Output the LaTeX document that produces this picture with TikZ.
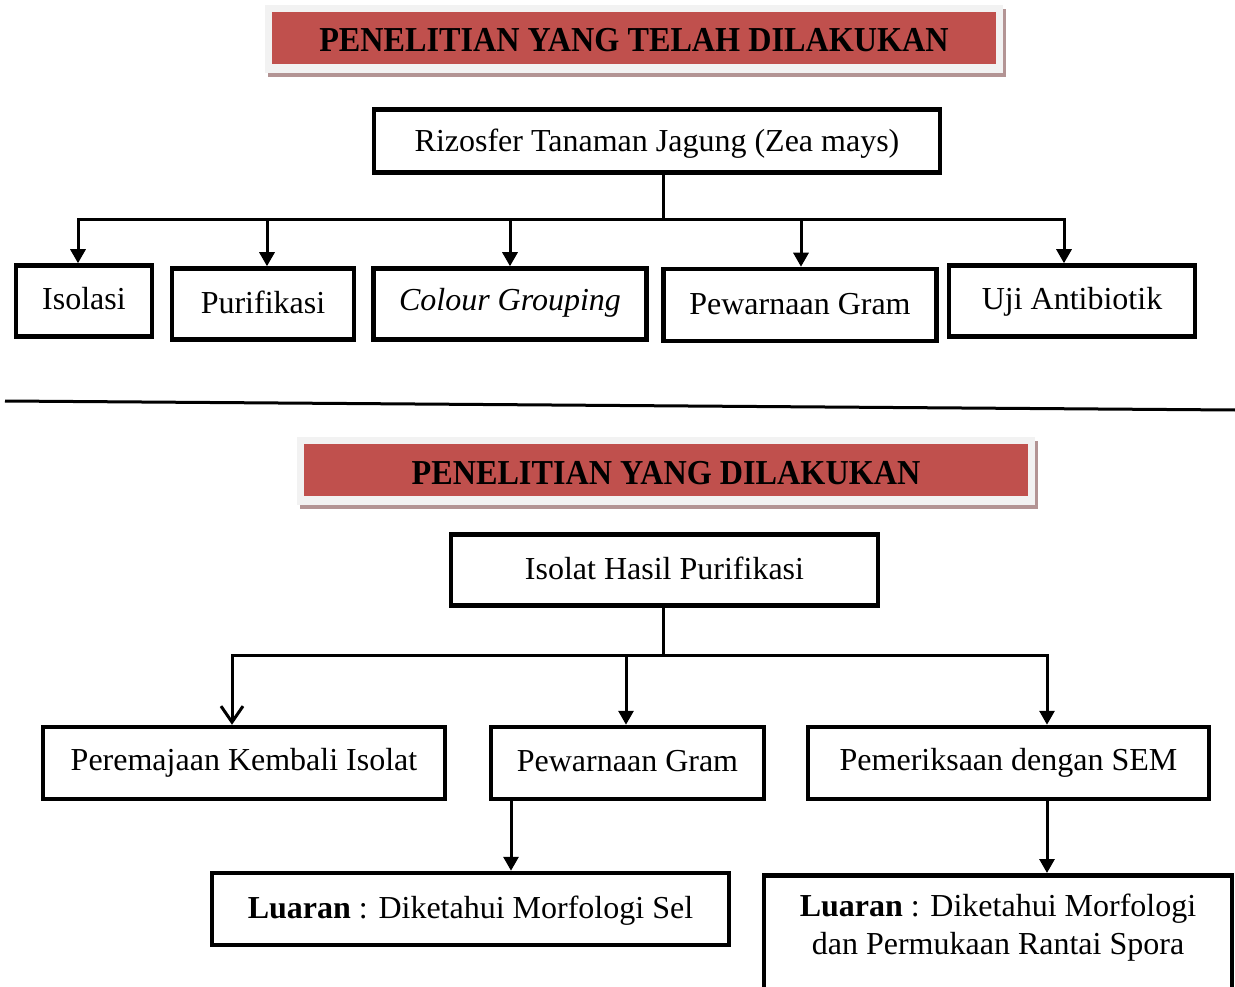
\documentclass[tikz,border=0pt]{standalone}
\usepackage{fontspec}
\setmainfont{Liberation Serif}
\usetikzlibrary{arrows.meta}
\definecolor{hdrred}{HTML}{C0504D}
\definecolor{hdrgray}{HTML}{F2F2F2}
\definecolor{hdrshadow}{HTML}{B39494}
\newcommand\vmove[2]{\raisebox{#1}[\height][\depth]{#2}}
\tikzset{
  box/.style={draw, line width=4.5pt, inner sep=0pt, font=\fontsize{32}{38}\selectfont, align=center},
  hdr/.style={fill=hdrred, inner sep=0pt, font=\fontsize{35}{38}\selectfont\bfseries},
  conn/.style={line width=3pt},
  arr/.style={line width=3pt, -{Triangle[length=14pt,width=15pt]}},
  varr/.style={line width=3pt, -{Straight Barb[length=16pt,width=22pt]}}
}
\begin{document}
\begin{tikzpicture}[x=1pt,y=-1pt]
\useasboundingbox (0,0) rectangle (1235,987);
% header 1
\fill[hdrshadow] (268,9) rectangle (1006,77);
\fill[hdrgray] (265,5) rectangle (1003,73);
\node[hdr, minimum width=724pt, minimum height=52pt] (h1) at (634,38) {\vmove{-2pt}{\scalebox{0.92}[1]{PENELITIAN YANG TELAH DILAKUKAN}}};
% top tree
\node[box, minimum width=566pt, minimum height=63pt] (rz) at (657,141) {\vmove{-3pt}{Rizosfer Tanaman Jagung (Zea mays)}};
\node[box, minimum width=136pt, minimum height=71pt] (iso) at (84,301) {\vmove{2pt}{Isolasi}};
\node[box, minimum width=182pt, minimum height=71pt] (pur) at (263,304) {\vmove{2pt}{Purifikasi}};
\node[box, minimum width=273pt, minimum height=71pt] (cg) at (510,304) {\vmove{1pt}{\itshape Colour Grouping}};
\node[box, minimum width=273pt, minimum height=72pt] (pg) at (800,305) {\vmove{1pt}{Pewarnaan Gram}};
\node[box, minimum width=246pt, minimum height=71pt] (uji) at (1072,301) {\vmove{-1pt}{Uji Antibiotik}};
\coordinate (j1) at (663,220);
\draw[conn] ([xshift=6pt]rz.south) -- (j1);
\draw[arr] (j1) -| ([xshift=-6pt]iso.north);
\draw[arr] (j1) -| ([xshift=4pt]pur.north);
\draw[arr] (j1) -| (cg.north);
\draw[arr] (j1) -| ([xshift=1pt]pg.north);
\draw[arr] (j1) -| ([xshift=-8pt]uji.north);
% separator
\draw[line width=3pt] (5,401) -- (1235,410);
% header 2
\fill[hdrshadow] (300,441) rectangle (1038,509);
\fill[hdrgray] (297,437) rectangle (1035,505);
\node[hdr, minimum width=724pt, minimum height=52pt] (h2) at (666,470) {\vmove{-3pt}{\scalebox{0.92}[1]{PENELITIAN YANG DILAKUKAN}}};
% bottom tree
\node[box, minimum width=427pt, minimum height=71pt] (ihp) at (664.5,570) {\vmove{2pt}{Isolat Hasil Purifikasi}};
\node[box, minimum width=402pt, minimum height=72pt] (per) at (244,763) {Peremajaan Kembali Isolat};
\node[box, minimum width=273pt, minimum height=72pt] (pg2) at (627.5,763) {\vmove{2pt}{Pewarnaan Gram}};
\node[box, minimum width=401pt, minimum height=72pt] (pem) at (1008.5,763) {Pemeriksaan dengan SEM};
\node[box, minimum width=517pt, minimum height=72pt] (lu1) at (470.5,909) {\vmove{-2pt}{\textbf{Luaran} : Diketahui Morfologi Sel}};
\node[box, minimum width=468pt, anchor=north, inner ysep=19pt, text depth=80pt] (lu2) at (998,873) {\textbf{Luaran} : Diketahui Morfologi\\dan Permukaan Rantai Spora};
\coordinate (j2) at (663,655);
\draw[conn] ([xshift=-1.5pt]ihp.south) -- (j2);
\draw[varr] (j2) -| ([xshift=-12pt]per.north);
\draw[arr] (j2) -| ([xshift=-1.5pt]pg2.north);
\draw[arr] (j2) -| ([xshift=38.5pt]pem.north);
\draw[arr] ([xshift=-116.5pt]pg2.south) -- ([xshift=-116.5pt]pg2.south |- lu1.north);
\draw[arr] ([xshift=38.5pt]pem.south) -- ([xshift=38.5pt]pem.south |- lu2.north);
\end{tikzpicture}
\end{document}
